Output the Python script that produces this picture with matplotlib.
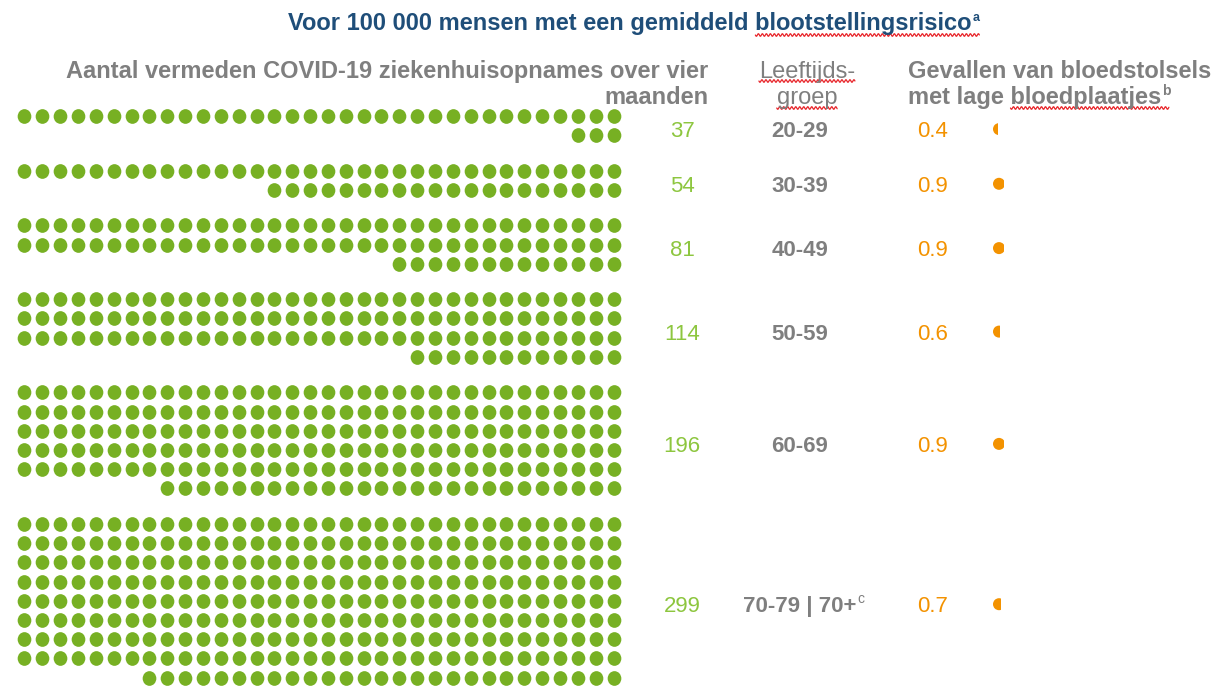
import numpy as np
import matplotlib
matplotlib.use('Agg')
import matplotlib.pyplot as plt
from matplotlib.patches import Circle, Rectangle
from matplotlib.path import Path
from matplotlib.transforms import Affine2D

# --- DATA ---
age_groups = ['20-29', '30-39', '40-49', '50-59', '60-69', '70-79 | 70+']
age_notes = ['', '', '', '', '', 'c']
hospitalisations_avoided = [37, 54, 81, 114, 196, 299]
clot_cases = [0.4, 0.9, 0.9, 0.6, 0.9, 0.7]

title = 'Voor 100 000 mensen met een gemiddeld blootstellingsrisico'
left_header = ['Aantal vermeden COVID-19 ziekenhuisopnames over vier', 'maanden']
mid_header = ['Leeftijds-', 'groep']
right_header = ['Gevallen van bloedstolsels', 'met lage bloedplaatjes']

# --- STYLE ---
DOTS_PER_ROW = 34
DOT_DX = 17.85
DOT_DY = 19.2
BLOCK_GAP = 35.5
FIRST_ROW_Y = 116
RIGHT_X = 613.5

GREEN = '#77B023'
GREEN_TEXT = '#8DC63F'
GRAY = '#7F7F7F'
ORANGE = '#F39200'
BLUE = '#1F4E79'
RED = '#E8262B'
FONT = 'Liberation Sans'

fig = plt.figure(figsize=(12.16, 6.87), dpi=100)
ax = fig.add_axes([0, 0, 1, 1])
ax.set_xlim(0, 1216)
ax.set_ylim(687, 0)
ax.axis('off')
renderer = fig.canvas.get_renderer()


def extent(t):
    bb = t.get_window_extent(renderer=renderer)
    pts = ax.transData.inverted().transform([[bb.x0, bb.y0], [bb.x1, bb.y1]])
    return min(pts[:, 0]), max(pts[:, 0])


def word_width(word, **kw):
    t = ax.text(0, 0, word, **kw)
    x0, x1 = extent(t)
    t.remove()
    return x1 - x0


def squiggle(x0, x1, y):
    xs = np.arange(x0, x1, 0.4)
    ys = y + 1.3 * np.sin(2 * np.pi * (xs - x0) / 4.0)
    ax.plot(xs, ys, color=RED, lw=0.9, solid_capstyle='round')


def sup(t, baseline, s, color, size=10, weight='normal'):
    x1 = extent(t)[1]
    ax.text(x1 + 0.5, baseline - 9, s, color=color, fontsize=size,
            family=FONT, weight=weight, va='baseline', ha='left')


# dot marker, a touch taller than wide
dot_marker = Path.unit_circle().transformed(Affine2D().scale(0.93, 1.0))

y = FIRST_ROW_Y
for n, age, note, clots in zip(hospitalisations_avoided, age_groups, age_notes, clot_cases):
    rows = int(np.ceil(n / DOTS_PER_ROW))
    xs, ys = [], []
    for r in range(rows):
        count = min(DOTS_PER_ROW, n - r * DOTS_PER_ROW)
        xs.extend(RIGHT_X - DOT_DX * np.arange(count))
        ys.extend([y + r * DOT_DY] * count)
    ax.scatter(xs, ys, s=112, marker=dot_marker, color=GREEN, linewidths=0)

    center = y + (rows - 1) * DOT_DY / 2 + 3.5
    base = center + 8

    ax.text(682, base, str(n), color=GREEN_TEXT, fontsize=16, family=FONT,
            ha='center', va='baseline')
    t = ax.text(800, base, age, color=GRAY, fontsize=16, family=FONT,
                weight='bold', ha='center', va='baseline')
    if note:
        sup(t, base, note, GRAY)
    ax.text(917, base, f'{clots:.1f}', color=ORANGE, fontsize=16, family=FONT,
            ha='left', va='baseline')

    # partial orange dot, visible (left) part proportional to the value
    cx, r_dot = 999, 6
    circ = Circle((cx, center), r_dot, color=ORANGE, lw=0)
    ax.add_patch(circ)
    clip = Rectangle((cx - r_dot, center - r_dot - 1),
                     clots * 2 * r_dot, 2 * r_dot + 2)
    clip.set_transform(ax.transData)
    circ.set_clip_path(clip)

    y = y + (rows - 1) * DOT_DY + BLOCK_GAP

# --- TITLE ---
tt = ax.text(630, 30, title, color=BLUE, fontsize=17, family=FONT,
             weight='bold', ha='center', va='baseline')
sup(tt, 30, 'a', BLUE, size=9, weight='bold')
x1 = extent(tt)[1]
squiggle(x1 - word_width('blootstellingsrisico', fontsize=17, family=FONT, weight='bold'), x1 + 8, 35)

# --- HEADERS ---
for line, base in zip(left_header, [78, 104]):
    ax.text(708, base, line, color=GRAY, fontsize=17, family=FONT,
            weight='bold', ha='right', va='baseline')

for line, base in zip(mid_header, [78, 104]):
    t = ax.text(807, base, line, color=GRAY, fontsize=17, family=FONT,
                ha='center', va='baseline')
    x0, x1 = extent(t)
    squiggle(x0, x1, base + 3 if line != 'groep' else base + 4)

for i, (line, base) in enumerate(zip(right_header, [78, 104])):
    t = ax.text(908, base, line, color=GRAY, fontsize=17, family=FONT,
                weight='bold', ha='left', va='baseline')
    if i == 1:
        sup(t, base, 'b', GRAY, size=10, weight='bold')
        x1 = extent(t)[1]
        w = word_width('bloedplaatjes', fontsize=17, family=FONT, weight='bold')
        squiggle(x1 - w, x1 + 8, base + 4)

fig.savefig('out.png', dpi=100)
